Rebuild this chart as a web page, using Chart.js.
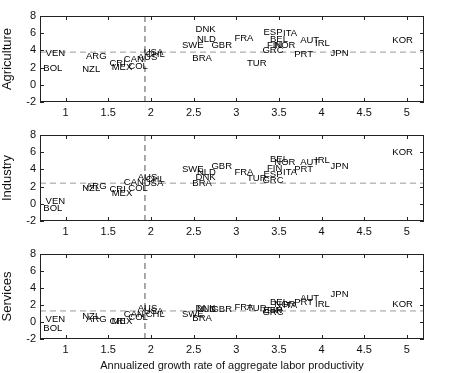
<!DOCTYPE html>
<html lang="en">
<head>
    <meta charset="UTF-8">
    <title>Sectoral productivity growth vs aggregate growth</title>
    <script src="https://cdn.jsdelivr.net/npm/chart.js"></script>
    <style>
        * {
            margin: 0;
            padding: 0;
            box-sizing: border-box;
        }

        body {
            width: 449px;
            height: 373px;
            background: #fff;
            position: relative;
            overflow: hidden;
        }

        canvas {
            position: absolute;
            left: 0;
        }
    </style>
</head>
<body>
    <canvas id="agri" width="449" height="119" style="top:0"></canvas>
    <canvas id="ind" width="449" height="119" style="top:119px"></canvas>
    <canvas id="serv" width="449" height="135" style="top:238px"></canvas>

    <script>
        // Country codes and aggregate labor productivity growth (shared x value)
        const countries = ['VEN', 'BOL', 'ARG', 'NZL', 'CRI', 'MEX', 'CAN', 'COL', 'AUS', 'USA',
            'CHL', 'SWE', 'DNK', 'NLD', 'GBR', 'BRA', 'FRA', 'TUR', 'ESP', 'ITA',
            'BEL', 'FIN', 'NOR', 'GRC', 'AUT', 'IRL', 'PRT', 'JPN', 'KOR'];
        const aggGrowth = [0.88, 0.85, 1.36, 1.30, 1.61, 1.66, 1.80, 1.85, 1.96, 2.03,
            2.05, 2.49, 2.64, 2.65, 2.83, 2.60, 3.09, 3.24, 3.43, 3.63,
            3.50, 3.45, 3.57, 3.43, 3.86, 4.01, 3.79, 4.21, 4.95];

        // Sectoral growth rates
        const agriculture = [3.7, 1.95, 3.35, 1.8, 2.5, 2.05, 3.0, 2.2, 3.2, 3.8,
            3.5, 4.6, 6.5, 5.3, 4.6, 3.1, 5.45, 2.5, 6.15, 6.0,
            5.3, 4.6, 4.6, 4.0, 5.2, 4.8, 3.55, 3.7, 5.2];
        const industry = [0.33, -0.5, 2.07, 1.8, 1.7, 1.25, 2.5, 1.8, 3.1, 2.4,
            2.8, 4.05, 3.1, 3.6, 4.4, 2.4, 3.6, 3.0, 3.45, 3.6,
            5.2, 4.15, 4.85, 2.75, 4.85, 5.1, 4.05, 4.4, 6.0];
        const services = [0.35, -0.8, 0.35, 0.7, 0.1, 0.1, 0.9, 0.6, 1.6, 1.3,
            0.85, 0.9, 1.6, 1.5, 1.5, 0.45, 1.75, 1.6, 1.4, 1.9,
            2.35, 1.35, 2.1, 1.1, 2.8, 2.1, 2.35, 3.3, 2.1];

        // Reference lines (averages)
        const sectorMeans = { agri: 3.8, ind: 2.4, serv: 1.3 };
        const meanAggGrowth = 1.93;

        const xTicks = [1, 1.5, 2, 2.5, 3, 3.5, 4, 4.5, 5];
        const yTicks = [-2, 0, 2, 4, 6, 8];
        const xRange = [0.7, 5.2];
        const yRange = [-2, 8];

        const FONT = '"Liberation Sans", Arial, sans-serif';

        // country labels are drawn as text at each point, plus a matlab-like box with inward ticks
        const textAndBox = {
            id: 'textAndBox',
            afterDatasetsDraw(chart) {
                const ctx = chart.ctx;
                const area = chart.chartArea;
                const xs = chart.scales.x, ys = chart.scales.y;

                ctx.save();
                ctx.strokeStyle = '#222';
                ctx.lineWidth = 1;
                ctx.strokeRect(area.left + 0.5, area.top + 0.5, area.right - area.left - 1, area.bottom - area.top - 1);

                ctx.beginPath();
                xTicks.forEach(v => {
                    const px = Math.round(xs.getPixelForValue(v)) + 0.5;
                    ctx.moveTo(px, area.bottom); ctx.lineTo(px, area.bottom - 4);
                    ctx.moveTo(px, area.top); ctx.lineTo(px, area.top + 4);
                });
                yTicks.forEach(v => {
                    const py = Math.round(ys.getPixelForValue(v)) + 0.5;
                    ctx.moveTo(area.left, py); ctx.lineTo(area.left + 4, py);
                    ctx.moveTo(area.right, py); ctx.lineTo(area.right - 4, py);
                });
                ctx.stroke();

                const meta = chart.getDatasetMeta(0);
                ctx.fillStyle = '#000';
                ctx.font = '9.5px ' + FONT;
                ctx.textAlign = 'center';
                ctx.textBaseline = 'middle';
                meta.data.forEach((pt, i) => {
                    ctx.fillText(countries[i], pt.x, pt.y);
                });
                ctx.restore();
            }
        };

        function makePanel(canvasId, yTitle, values, mean, showXTitle) {
            const pts = aggGrowth.map((x, i) => ({ x: x, y: values[i] }));
            return new Chart(document.getElementById(canvasId), {
                type: 'scatter',
                data: {
                    datasets: [
                        { data: pts, pointRadius: 0, showLine: false },
                        {
                            data: [{ x: xRange[0], y: mean }, { x: xRange[1], y: mean }],
                            showLine: true, pointRadius: 0, borderColor: '#999',
                            borderWidth: 1, borderDash: [6, 4]
                        },
                        {
                            data: [{ x: meanAggGrowth, y: yRange[0] }, { x: meanAggGrowth, y: yRange[1] }],
                            showLine: true, pointRadius: 0, borderColor: '#555',
                            borderWidth: 1, borderDash: [6, 4]
                        }
                    ]
                },
                options: {
                    responsive: false,
                    animation: false,
                    devicePixelRatio: 1,
                    layout: { padding: { top: 16, right: 25, left: 0, bottom: 0 } },
                    plugins: { legend: { display: false }, tooltip: { enabled: false } },
                    scales: {
                        x: {
                            type: 'linear',
                            min: xRange[0],
                            max: xRange[1],
                            grid: { display: false, drawTicks: false },
                            border: { display: false },
                            afterBuildTicks: s => { s.ticks = xTicks.map(v => ({ value: v })); },
                            afterFit: s => { s.height = showXTitle ? 34 : 17; },
                            ticks: {
                                color: '#111', padding: 4,
                                font: { family: FONT, size: 11 },
                                callback: v => String(v)
                            },
                            title: {
                                display: showXTitle,
                                text: 'Annualized growth rate of aggregate labor productivity',
                                color: '#111',
                                padding: { top: 3, bottom: 0 },
                                font: { family: FONT, size: 11 }
                            }
                        },
                        y: {
                            min: yRange[0],
                            max: yRange[1],
                            grid: { display: false, drawTicks: false },
                            border: { display: false },
                            afterBuildTicks: s => { s.ticks = yTicks.map(v => ({ value: v })); },
                            afterFit: s => { s.width = 40; },
                            ticks: {
                                color: '#111', padding: 4,
                                font: { family: FONT, size: 11 },
                                callback: v => String(v)
                            },
                            title: {
                                display: true,
                                text: yTitle,
                                color: '#111',
                                padding: { top: 0, bottom: 0 },
                                font: { family: FONT, size: 13 }
                            }
                        }
                    }
                },
                plugins: [textAndBox]
            });
        }

        makePanel('agri', 'Agriculture', agriculture, sectorMeans.agri, false);
        makePanel('ind', 'Industry', industry, sectorMeans.ind, false);
        makePanel('serv', 'Services', services, sectorMeans.serv, true);
    </script>
</body>
</html>
